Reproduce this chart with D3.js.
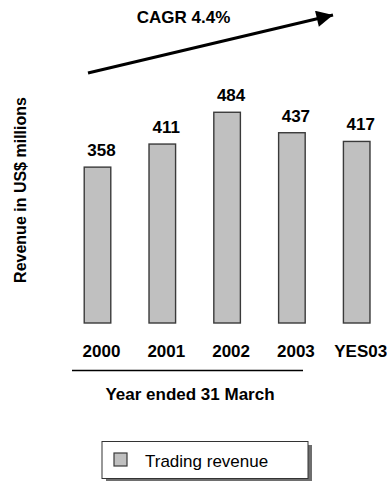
<!DOCTYPE html>
<html>
<head>
<meta charset="utf-8">
<script src="https://cdn.jsdelivr.net/npm/d3@7"></script>
<style>
  html, body { margin: 0; padding: 0; background: #ffffff; }
  svg { display: block; font-family: "Liberation Sans", Arial, sans-serif; }
</style>
</head>
<body>
<svg id="chart" width="387" height="481"></svg>
<script>
// Trading revenue by financial year (US$ millions)
const categories = ["2000", "2001", "2002", "2003", "YES03"];
const revenue = [358, 411, 484, 437, 417];
const seriesName = "Trading revenue";
const yAxisTitle = "Revenue in US$ millions";
const xAxisTitle = "Year ended 31 March";
const growthLabel = "CAGR 4.4%";

const svg = d3.select("#chart");

const x = d3.scaleBand()
  .domain(categories)
  .range([65.1, 389.1])
  .paddingInner(0.59)
  .paddingOuter(0.295);

const y = d3.scaleLinear()
  .domain([0, 500])
  .range([323, 105.3]);

const barFill = "#c0c0c0";
const barStroke = "#3a3a3a";
const labelShift = 4;

// Bars
svg.append("g")
  .selectAll("rect")
  .data(revenue)
  .join("rect")
  .attr("x", (d, i) => x(categories[i]))
  .attr("y", d => y(d))
  .attr("width", x.bandwidth())
  .attr("height", d => y(0) - y(d))
  .attr("fill", barFill)
  .attr("stroke", barStroke)
  .attr("stroke-width", 1.4);

// Value labels above bars
svg.append("g")
  .selectAll("text")
  .data(revenue)
  .join("text")
  .attr("x", (d, i) => x(categories[i]) + x.bandwidth() / 2 + labelShift)
  .attr("y", d => y(d) - 11)
  .attr("text-anchor", "middle")
  .attr("font-size", 17)
  .attr("font-weight", "bold")
  .attr("fill", "#000")
  .text(d => d);

// Category axis labels
const xAxis = d3.axisBottom(x).tickSize(0).tickPadding(0);
const xg = svg.append("g")
  .attr("transform", "translate(" + labelShift + ",0)")
  .call(xAxis);
xg.select(".domain").remove();
xg.selectAll("text")
  .attr("y", 356.5)
  .attr("dy", null)
  .attr("font-size", 17)
  .attr("font-weight", "bold")
  .attr("font-family", "Liberation Sans, Arial, sans-serif")
  .attr("fill", "#000");

// Underline for the financial-year group
svg.append("line")
  .attr("x1", 72)
  .attr("x2", 303)
  .attr("y1", 370.5)
  .attr("y2", 370.5)
  .attr("stroke", "#000")
  .attr("stroke-width", 1.4);

svg.append("text")
  .attr("x", 190)
  .attr("y", 400)
  .attr("text-anchor", "middle")
  .attr("font-size", 17)
  .attr("font-weight", "bold")
  .text(xAxisTitle);

// Vertical axis title
svg.append("text")
  .attr("transform", "translate(26,190) rotate(-90)")
  .attr("text-anchor", "middle")
  .attr("font-size", 16)
  .attr("font-weight", "bold")
  .text(yAxisTitle);

// Growth arrow
const defs = svg.append("defs");
defs.append("marker")
  .attr("id", "arrowhead")
  .attr("viewBox", "0 0 10 10")
  .attr("refX", 10)
  .attr("refY", 5)
  .attr("markerWidth", 6)
  .attr("markerHeight", 5.5)
  .attr("markerUnits", "strokeWidth")
  .attr("orient", "auto")
  .append("path")
  .attr("d", "M0,0 L10,5 L0,10 Z")
  .attr("fill", "#000");

svg.append("line")
  .attr("x1", 88)
  .attr("y1", 73)
  .attr("x2", 333)
  .attr("y2", 15)
  .attr("stroke", "#000")
  .attr("stroke-width", 3)
  .attr("marker-end", "url(#arrowhead)");

svg.append("text")
  .attr("x", 183.5)
  .attr("y", 23)
  .attr("text-anchor", "middle")
  .attr("font-size", 17)
  .attr("font-weight", "bold")
  .text(growthLabel);

// Legend with drop shadow
const legend = svg.append("g");
legend.append("rect")
  .attr("x", 106)
  .attr("y", 445)
  .attr("width", 206)
  .attr("height", 37)
  .attr("fill", "#6e6e6e");
legend.append("rect")
  .attr("x", 102)
  .attr("y", 441.5)
  .attr("width", 206)
  .attr("height", 37)
  .attr("fill", "#fff")
  .attr("stroke", "#333")
  .attr("stroke-width", 1);
legend.append("rect")
  .attr("x", 114)
  .attr("y", 453)
  .attr("width", 13)
  .attr("height", 13)
  .attr("fill", barFill)
  .attr("stroke", barStroke)
  .attr("stroke-width", 1.2);
legend.append("text")
  .attr("x", 145)
  .attr("y", 467)
  .attr("font-size", 17)
  .attr("fill", "#000")
  .text(seriesName);
</script>
</body>
</html>
